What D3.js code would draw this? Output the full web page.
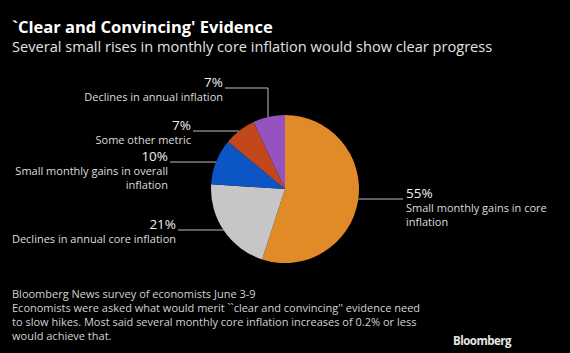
<!DOCTYPE html>
<html>
<head>
<meta charset="utf-8">
<script src="https://cdn.jsdelivr.net/npm/d3@7"></script>
<style>
  body { margin: 0; background: #000; }
  text { font-family: "Open Sans", "Noto Sans", sans-serif; }
</style>
</head>
<body>
<div id="chart"></div>
<script>
// data
const categories = ["Small monthly gains in core inflation", "Declines in annual core inflation",
                    "Small monthly gains in overall inflation", "Some other metric", "Declines in annual inflation"];
const shares = [55, 21, 10, 7, 7];
const labelLines = [["Small monthly gains in core", "inflation"], ["Declines in annual core inflation"],
                    ["Small monthly gains in overall", "inflation"], ["Some other metric"], ["Declines in annual inflation"]];
const sliceColors = ["#e08b28", "#c6c6c6", "#0b56c4", "#c2481c", "#9553bf"];

const width = 570, height = 353;
const cx = 285, cy = 189, radius = 74;

// where each label sits (y of leader line, side, x end of line)
const labelLayout = [
  {side: "right", y: 199, xEnd: 403},
  {side: "left", y: 230, xEnd: 178},
  {side: "left", y: 162, xEnd: 170},
  {side: "left", y: 131, xEnd: 193},
  {side: "left", y: 88, xEnd: 225, elbowX: 268}
];

let svg = d3.select("#chart").append("svg")
            .attr("width", width)
            .attr("height", height)
            .style("background", "#000");

svg.append("text")
   .attr("x", 12).attr("y", 33)
   .attr("fill", "#fff")
   .style("font-size", "16.5px").style("font-weight", "bold")
   .text("`Clear and Convincing' Evidence");

svg.append("text")
   .attr("x", 12).attr("y", 52)
   .attr("fill", "#e2e2e2")
   .style("font-size", "14.6px")
   .text("Several small rises in monthly core inflation would show clear progress");

let pie = d3.pie().sort(null).value(d => d);
let arc = d3.arc().innerRadius(0).outerRadius(radius);

let g = svg.append("g").attr("transform", "translate(" + cx + "," + cy + ")");

g.selectAll("path")
 .data(pie(shares))
 .enter()
 .append("path")
 .attr("d", arc)
 .attr("fill", (d, i) => sliceColors[i]);

// leader lines + labels
labelLayout.forEach(function(l, i) {
  let dy = l.y - cy;
  let lines = svg.append("g");
  if (l.elbowX !== undefined) {
    let yTop = cy - Math.sqrt(radius * radius - (l.elbowX - cx) * (l.elbowX - cx));
    lines.append("path")
      .attr("d", "M" + l.xEnd + "," + l.y + "H" + l.elbowX + "V" + yTop)
      .attr("fill", "none").attr("stroke", "#bdbdbd").attr("stroke-width", 1);
  } else {
    let edge = Math.sqrt(radius * radius - dy * dy);
    let x0 = l.side === "right" ? cx + edge : cx - edge;
    lines.append("line")
      .attr("x1", x0).attr("x2", l.xEnd)
      .attr("y1", l.y).attr("y2", l.y)
      .attr("stroke", "#bdbdbd").attr("stroke-width", 1);
  }
  let tx = l.side === "right" ? l.xEnd + 3 : l.xEnd - 2;
  let anchor = l.side === "right" ? "start" : "end";
  svg.append("text")
     .attr("x", tx).attr("y", l.y - 1.5)
     .attr("text-anchor", anchor)
     .attr("fill", "#f0f0f0")
     .style("font-size", "13.5px")
     .text(shares[i] + "%");
  labelLines[i].forEach(function(t, j) {
    svg.append("text")
       .attr("x", tx).attr("y", l.y + 13 + j * 14)
       .attr("text-anchor", anchor)
       .attr("fill", "#dcdcdc")
       .style("font-size", "11px")
       .text(t);
  });
});

const notes = ["Bloomberg News survey of economists June 3-9",
               "Economists were asked what would merit ``clear and convincing'' evidence need",
               "to slow hikes. Most said several monthly core inflation increases of 0.2% or less",
               "would achieve that."];
svg.selectAll(".note")
   .data(notes)
   .enter()
   .append("text")
   .attr("class", "note")
   .attr("x", 12)
   .attr("y", (d, i) => 298 + i * 14)
   .attr("fill", "#d2d2d2")
   .style("font-size", "11px")
   .text(d => d);

svg.append("text")
   .attr("x", 511).attr("y", 345)
   .attr("text-anchor", "end")
   .attr("fill", "#e6e6e6")
   .style("font-size", "11.5px").style("font-weight", "bold")
   .style("letter-spacing", "-0.5px")
   .text("Bloomberg");
</script>
</body>
</html>
